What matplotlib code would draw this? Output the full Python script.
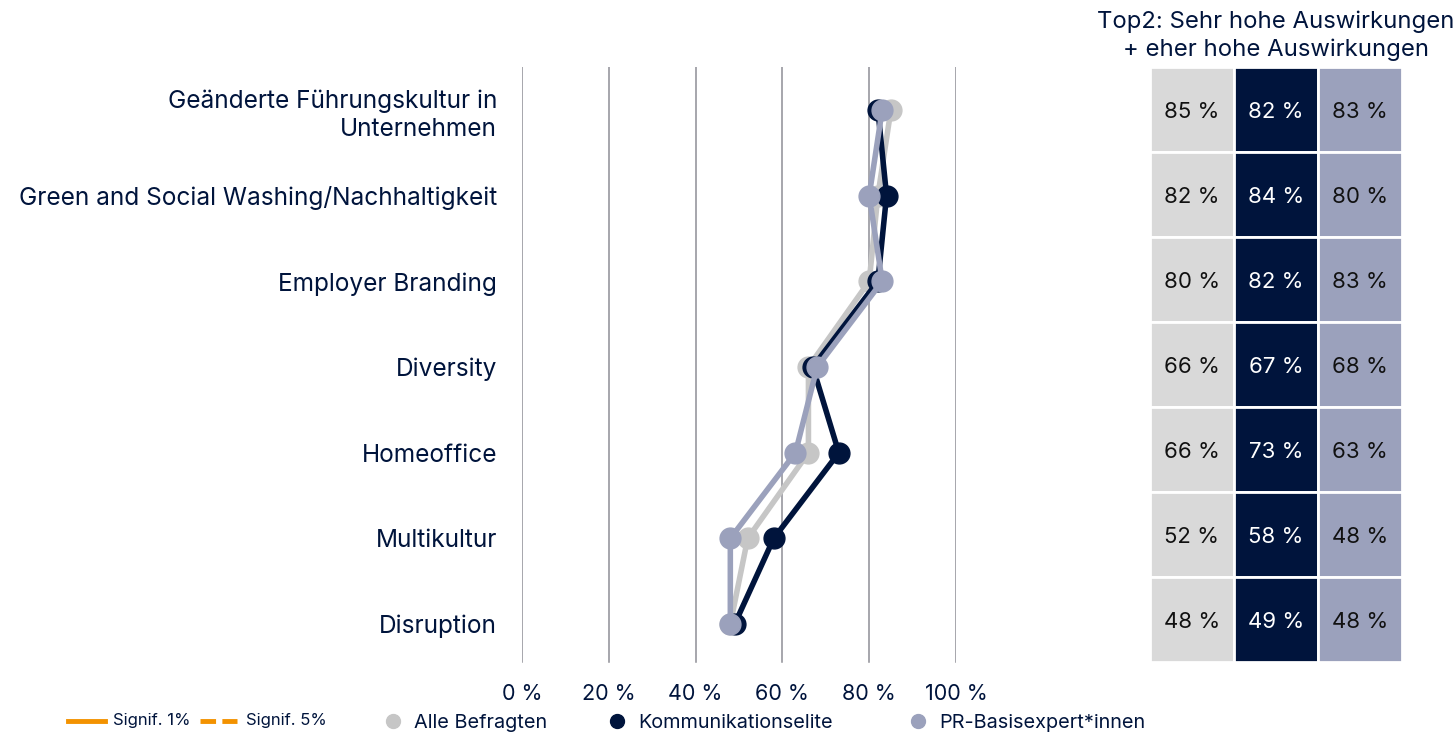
import matplotlib.pyplot as plt
from matplotlib.lines import Line2D
from matplotlib.patches import Rectangle

plt.rcParams['font.family'] = ['Inter', 'DejaVu Sans']

NAVY = '#00143C'
GRAY = '#C6C6C6'
GRAY_CELL = '#D9D9D9'
BLUE = '#9BA1BC'
ORANGE = '#F39200'

categories = [
    'Geänderte Führungskultur in\nUnternehmen',
    'Green and Social Washing/Nachhaltigkeit',
    'Employer Branding',
    'Diversity',
    'Homeoffice',
    'Multikultur',
    'Disruption',
]
alle = [85, 82, 80, 66, 66, 52, 48]
elite = [82, 84, 82, 67, 73, 58, 49]
basis = [83, 80, 83, 68, 63, 48, 48]
series_names = ['Alle Befragten', 'Kommunikationselite', 'PR-Basisexpert*innen']
xticks = [0, 20, 40, 60, 80, 100]

W, H = 1456, 734
fig = plt.figure(figsize=(W / 100, H / 100), dpi=100)

def fig_rect(x0, y0, x1, y1):
    return [x0 / W, 1 - y1 / H, (x1 - x0) / W, (y1 - y0) / H]

n = len(categories)
ys = list(range(n))

# dot plot
ax = fig.add_axes(fig_rect(522, 67, 956, 667))
ax.set_xlim(0, 100)
ax.set_ylim(n - 0.5, -0.5)
for x in xticks:
    ax.axvline(x, ymin=0.008, ymax=1, color='#8E8E96', lw=1.1, zorder=0)
for vals, col in [(alle, GRAY), (elite, NAVY), (basis, BLUE)]:
    ax.plot(vals, ys, color=col, lw=4, marker='o', ms=15, zorder=3)
for s in ax.spines.values():
    s.set_visible(False)
ax.set_xticks(xticks)
ax.set_xticklabels([f'{x} %' for x in xticks], fontsize=15.5, color=NAVY)
ax.tick_params(axis='x', length=0, pad=12)
ax.set_yticks(ys)
ax.set_yticklabels(categories, fontsize=17.6, color=NAVY, ha='right', linespacing=1.3)
ax.tick_params(axis='y', length=0, pad=18)

# value table
tab = fig.add_axes(fig_rect(1150, 67, 1402, 662))
tab.set_xlim(0, 3)
tab.set_ylim(n, 0)
tab.axis('off')
cell_cols = [GRAY_CELL, NAVY, BLUE]
text_cols = ['#111111', 'white', '#111111']
for j, vals in enumerate([alle, elite, basis]):
    for i, v in enumerate(vals):
        tab.add_patch(Rectangle((j, i), 1, 1, facecolor=cell_cols[j],
                                edgecolor='white', lw=2))
        tab.text(j + 0.5, i + 0.53, f'{v} %', ha='center', va='center',
                 fontsize=16, color=text_cols[j])

fig.text(1276 / W, 1 - 36 / H, 'Top2: Sehr hohe Auswirkungen\n+ eher hohe Auswirkungen',
         ha='center', va='center', fontsize=17.2, color=NAVY, linespacing=1.3)

# legend row
yl = 1 - 721 / H
fig.add_artist(Line2D([68 / W, 105 / W], [yl, yl], color=ORANGE, lw=3.5))
fig.text(113 / W, yl, 'Signif. 1%', fontsize=12, color=NAVY, va='center')
fig.add_artist(Line2D([200 / W, 237 / W], [yl, yl], color=ORANGE, lw=3.5,
                      dashes=(3.2, 1.3)))
fig.text(246 / W, yl, 'Signif. 5%', fontsize=12, color=NAVY, va='center')
for name, col, xm in zip(series_names, [GRAY, NAVY, BLUE], [393, 617, 918]):
    fig.add_artist(Line2D([xm / W], [yl], marker='o', ms=10, color=col, lw=0))
    fig.text((xm + 21) / W, yl - 2 / H, name, fontsize=14.3, color=NAVY, va='center')

fig.savefig('out.png', dpi=100)
